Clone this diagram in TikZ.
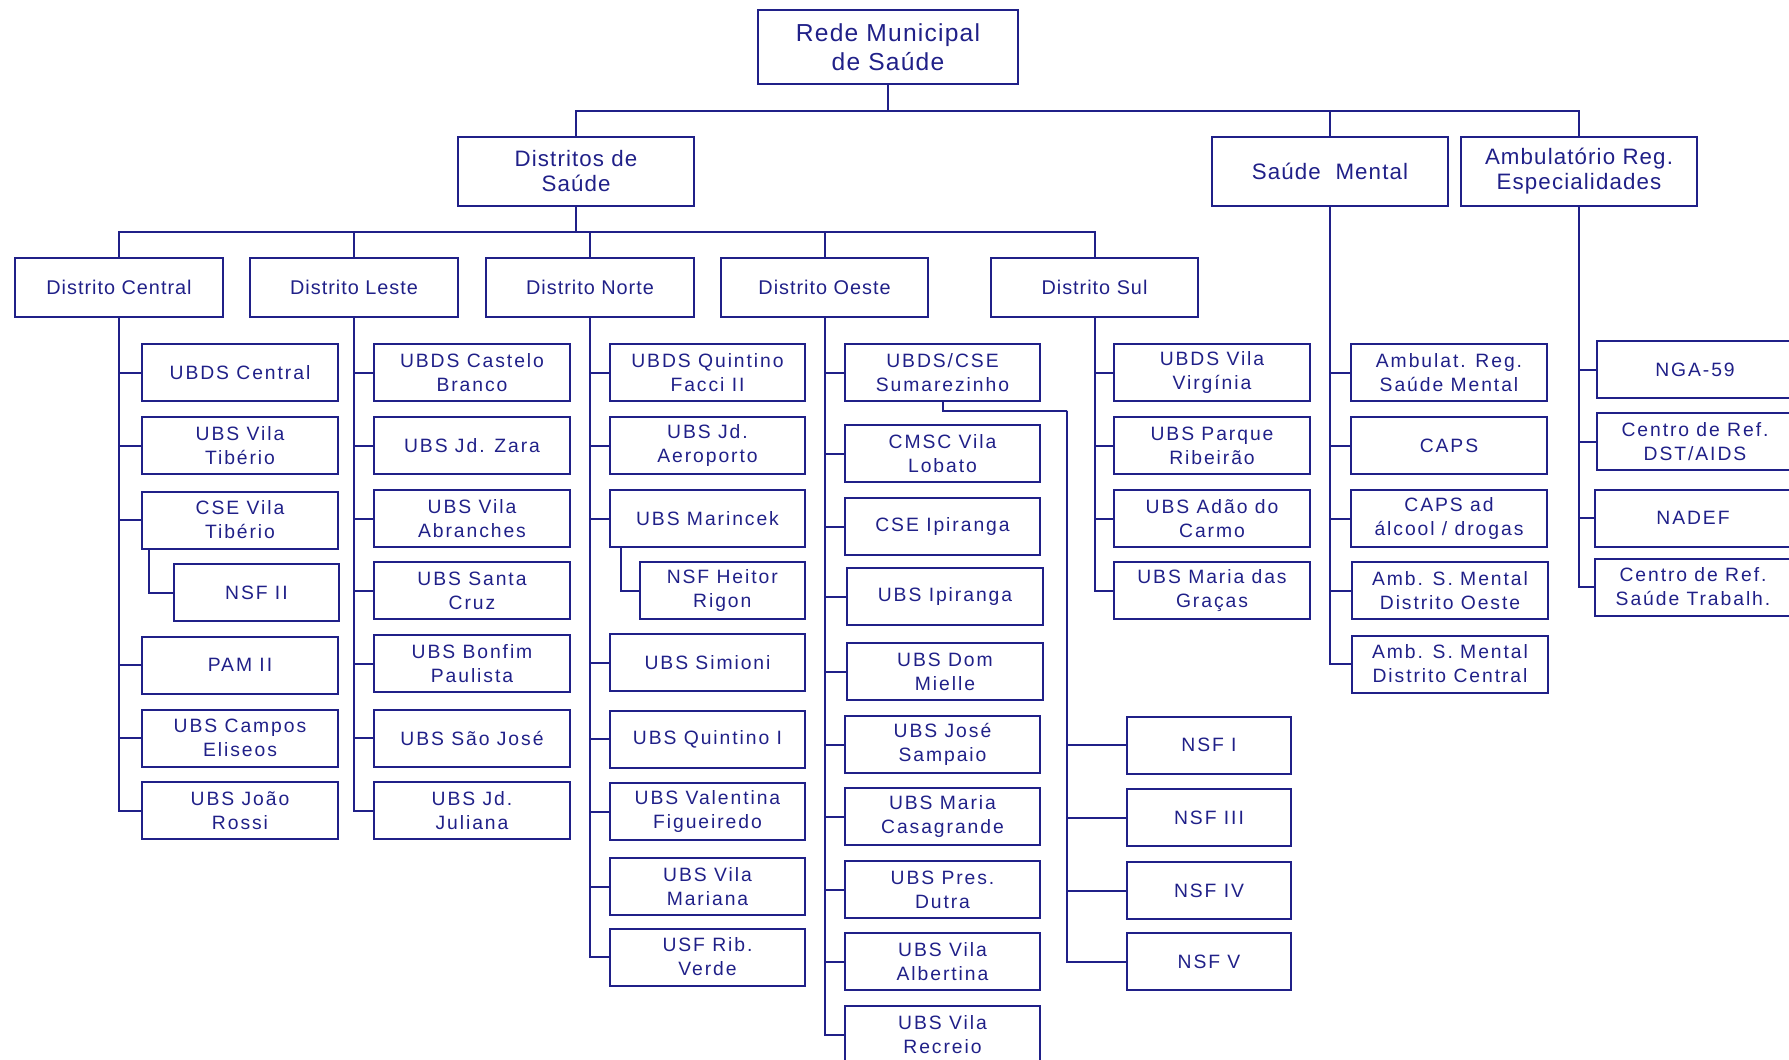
\documentclass[tikz,border=0pt]{standalone}
\usepackage{fontspec}
\setmainfont{Liberation Sans}
\newfontfamily\leaffont[LetterSpace=10]{Liberation Sans}
\newfontfamily\headfont[LetterSpace=5]{Liberation Sans}
\definecolor{navy}{RGB}{32,32,136}

\begin{document}
\begin{tikzpicture}[x=0.02cm,y=-0.02cm,line width=0.04cm,navy,
  every node/.style={draw,rectangle,align=center,inner sep=0pt,text=navy},
  rootbox/.style={minimum width=5.22cm,minimum height=1.5cm,font={\headfont\fontsize{14}{16.8}\selectfont}},
  groupbox/.style={minimum width=4.72cm,minimum height=1.38cm,font={\headfont\fontsize{12.7}{14.6}\selectfont}},
  districtbox/.style={minimum width=4.16cm,minimum height=1.18cm,font={\headfont\fontsize{11.3}{13.6}\selectfont}},
  unitbox/.style={minimum width=3.92cm,minimum height=1.14cm,font={\leaffont\fontsize{11}{13.6}\selectfont}},
  nsfbox/.style={unitbox,minimum width=3.3cm}]
\clip (0,0) rectangle (1789,1059);

\node [rootbox] (rede) at (888,47) {Rede Municipal\\de Saúde};
\node [groupbox] (dsaude) at (576,171) {Distritos de\\Saúde};
\node [groupbox] (smental) at (1330,171) {Saúde~ Mental};
\node [groupbox] (ambreg) at (1579,171) {Ambulatório Reg.\\Especialidades};
\coordinate (bus1) at (888,111);
\draw (rede) -- (bus1);
\foreach \n in {dsaude,smental,ambreg} \draw (bus1) -| (\n.north);

\node [districtbox] (dcentral) at (119,287) {Distrito Central};
\node [districtbox] (dleste) at (354,287) {Distrito Leste};
\node [districtbox] (dnorte) at (590,287) {Distrito Norte};
\node [districtbox] (doeste) at (824.5,287) {Distrito Oeste};
\node [districtbox] (dsul) at (1094.5,287) {Distrito Sul};
\coordinate (bus2) at (576,231.7);
\draw (dsaude) -- (bus2);
\foreach \n in {dcentral,dleste,dnorte,doeste,dsul} \draw (bus2) -| (\n.north);

% Distrito Central
\node [unitbox] (ubdscentral) at (240,372.5) {UBDS Central};
\node [unitbox] (ubsvtiberio) at (240,445.5) {UBS Vila\\Tibério};
\node [unitbox] (csevtiberio) at (240,520) {CSE Vila\\Tibério};
\node [nsfbox] (nsfii) at (256.4,592.5) {NSF II};
\node [unitbox] (pamii) at (240,665) {PAM II};
\node [unitbox] (ubscampos) at (240,738) {UBS Campos\\Eliseos};
\node [unitbox] (ubsjoao) at (240,810.5) {UBS João\\Rossi};
\foreach \n in {ubdscentral,ubsvtiberio,csevtiberio,pamii,ubscampos,ubsjoao} \draw (dcentral.south) |- (\n.west);
\draw ([xshift=0.15cm]csevtiberio.south west) |- (nsfii.west);

% Distrito Leste
\node [unitbox] (ubdscastelo) at (472,372.5) {UBDS Castelo\\Branco};
\node [unitbox] (ubszara) at (472,445.5) {UBS Jd. Zara};
\node [unitbox] (ubsabranches) at (472,518.5) {UBS Vila\\Abranches};
\node [unitbox] (ubssanta) at (472,590.5) {UBS Santa\\Cruz};
\node [unitbox] (ubsbonfim) at (472,663.5) {UBS Bonfim\\Paulista};
\node [unitbox] (ubssaojose) at (472,738) {UBS São José};
\node [unitbox] (ubsjuliana) at (472,810.5) {UBS Jd.\\Juliana};
\foreach \n in {ubdscastelo,ubszara,ubsabranches,ubssanta,ubsbonfim,ubssaojose,ubsjuliana} \draw (dleste.south) |- (\n.west);

% Distrito Norte
\node [unitbox] (ubdsquintino) at (707.5,372.5) {UBDS Quintino\\Facci II};
\node [unitbox] (ubsaeroporto) at (707.5,445.5) {UBS Jd.\\Aeroporto};
\node [unitbox] (ubsmarincek) at (707.5,518.5) {UBS Marincek};
\node [nsfbox] (nsfheitor) at (722.3,590.5) {NSF Heitor\\Rigon};
\node [unitbox] (ubssimioni) at (707.5,662.5) {UBS Simioni};
\node [unitbox] (ubsquintino) at (707.5,739) {UBS Quintino I};
\node [unitbox] (ubsvalentina) at (707.5,811.5) {UBS Valentina\\Figueiredo};
\node [unitbox] (ubsmariana) at (707.5,886.5) {UBS Vila\\Mariana};
\node [unitbox] (usfverde) at (707.5,957) {USF Rib.\\Verde};
\foreach \n in {ubdsquintino,ubsaeroporto,ubsmarincek,ubssimioni,ubsquintino,ubsvalentina,ubsmariana,usfverde} \draw (dnorte.south) |- (\n.west);
\draw ([xshift=0.25cm]ubsmarincek.south west) |- (nsfheitor.west);

% Distrito Oeste
\node [unitbox] (sumarezinho) at (942.5,372.5) {UBDS/CSE\\Sumarezinho};
\node [unitbox] (cmsclobato) at (942.5,453.5) {CMSC Vila\\Lobato};
\node [unitbox] (cseipiranga) at (942.5,526.5) {CSE Ipiranga};
\node [unitbox] (ubsipiranga) at (945,596.5) {UBS Ipiranga};
\node [unitbox] (ubsmielle) at (945,671.5) {UBS Dom\\Mielle};
\node [unitbox] (ubssampaio) at (942.5,744.5) {UBS José\\Sampaio};
\node [unitbox] (ubscasagrande) at (942.5,816.5) {UBS Maria\\Casagrande};
\node [unitbox] (ubsdutra) at (942.5,889.5) {UBS Pres.\\Dutra};
\node [unitbox] (ubsalbertina) at (942.5,961.5) {UBS Vila\\Albertina};
\node [unitbox] (ubsrecreio) at (942.5,1034.5) {UBS Vila\\Recreio};
\foreach \n in {sumarezinho,cmsclobato,cseipiranga,ubsipiranga,ubsmielle,ubssampaio,ubscasagrande,ubsdutra,ubsalbertina,ubsrecreio} \draw (doeste.south) |- (\n.west);

\node [nsfbox] (nsfi) at (1209,745) {NSF I};
\node [nsfbox] (nsfiii) at (1209,817.5) {NSF III};
\node [nsfbox] (nsfiv) at (1209,890.5) {NSF IV};
\node [nsfbox] (nsfv) at (1209,961.5) {NSF V};
\coordinate (nsfbus) at (1067,410.7);
\draw (sumarezinho.south) |- (nsfbus);
\foreach \n in {nsfi,nsfiii,nsfiv,nsfv} \draw (nsfbus) |- (\n.west);

% Distrito Sul
\node [unitbox] (ubdsvirginia) at (1212,372.5) {UBDS Vila\\Virgínia};
\node [unitbox] (ubsribeirao) at (1212,445.5) {UBS Parque\\Ribeirão};
\node [unitbox] (ubsadao) at (1212,518.5) {UBS Adão do\\Carmo};
\node [unitbox] (ubsgracas) at (1212,590.5) {UBS Maria das\\Graças};
\foreach \n in {ubdsvirginia,ubsribeirao,ubsadao,ubsgracas} \draw (dsul.south) |- (\n.west);

% Saude Mental
\node [unitbox] (ambsaude) at (1449,372.5) {Ambulat. Reg.\\Saúde Mental};
\node [unitbox] (caps) at (1449,445.5) {CAPS};
\node [unitbox] (capsad) at (1449,518.5) {CAPS ad\\álcool / drogas};
\node [unitbox] (ambdoeste) at (1450,590.5) {Amb. S. Mental\\Distrito Oeste};
\node [unitbox] (ambdcentral) at (1450,664) {Amb. S. Mental\\Distrito Central};
\foreach \n in {ambsaude,caps,capsad,ambdoeste,ambdcentral} \draw (smental.south) |- (\n.west);

% Ambulatorio
\node [unitbox] (nga) at (1695,369.5) {NGA-59};
\node [unitbox] (crdst) at (1695,441.5) {Centro de Ref.\\DST/AIDS};
\node [unitbox] (nadef) at (1693,518) {NADEF};
\node [unitbox] (crsaude) at (1693,587) {Centro de Ref.\\Saúde Trabalh.};
\foreach \n in {nga,crdst,nadef,crsaude} \draw (ambreg.south) |- (\n.west);
\end{tikzpicture}
\end{document}
